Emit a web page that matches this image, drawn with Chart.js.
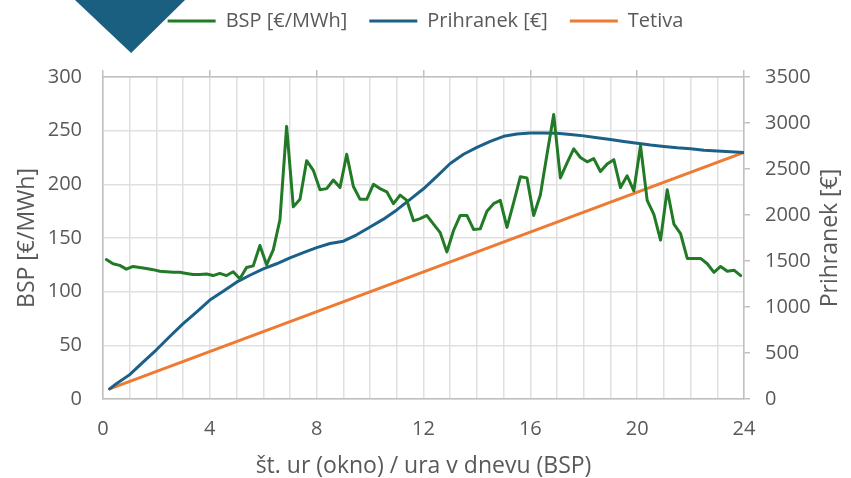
<!DOCTYPE html>
<html>
<head>
<meta charset="utf-8">
<script src="https://cdn.jsdelivr.net/npm/chart.js@4.4.1/dist/chart.umd.min.js"></script>
<style>
  html, body { margin: 0; padding: 0; background: #ffffff; }
  #wrap { position: relative; width: 851px; height: 478px; }
  #corner {
    position: absolute; left: 75px; top: 0; width: 110px; height: 53px;
    background: #1a5f80;
    clip-path: polygon(0 0, 100% 0, 51% 100%);
  }
  canvas { position: absolute; left: 0; top: 0; }
</style>
</head>
<body>
<div id="wrap">
  <div id="corner"></div>
  <canvas id="chart" width="851" height="478"></canvas>
</div>
<script>
// BSP price per quarter hour [€/MWh]
var bspValues = [
    130, 126, 124.5, 121, 123.5, 122.5, 121.5, 120.5,
    119, 118.5, 118, 118, 117, 116, 116, 116.5,
    115, 117, 115, 118.5, 112, 122.5, 124, 143,
    125, 139, 167, 254, 179, 186, 222, 213,
    195, 196, 204, 197, 228, 198, 186, 186,
    200, 196, 193, 182, 190, 185, 166, 168,
    171, 163, 155, 137, 157, 171, 171, 158,
    158.5, 175, 182, 185, 160, 183, 207, 206,
    171, 190, 228, 265, 206, 220, 233, 225,
    221, 224, 212, 219, 223, 197, 208, 194,
    236, 185, 172, 148, 195, 163, 154, 131,
    131, 131, 126, 118, 123.5, 119, 120, 115
];
// quarter-hour slots, plotted at the middle of each slot
var bspHours = bspValues.map(function (v, i) { return i * 0.25 + 0.125; });

// savings by window length [€]
var savingHours = [
    0.25, 0.5, 1, 1.5, 2, 2.5, 3, 3.5, 4, 4.5, 5, 5.5, 6, 6.5, 7, 7.5,
    8, 8.5, 9, 9.5, 10, 10.5, 11, 11.5, 12, 12.5, 13, 13.5, 14, 14.5, 15, 15.5,
    16, 16.5, 17, 17.5, 18, 18.5, 19, 19.5, 20, 20.5, 21, 21.5, 22, 22.5, 23, 23.5, 24
];
var savingValues = [
    110, 165, 265, 400, 535, 680, 820, 945, 1075, 1170, 1270, 1345, 1415, 1470, 1535, 1590,
    1645, 1690, 1715, 1785, 1870, 1955, 2055, 2170, 2285, 2420, 2560, 2660, 2735, 2800, 2855, 2880,
    2890, 2890, 2888, 2875, 2860, 2840, 2820, 2800, 2780, 2760, 2745, 2730, 2720, 2705, 2695, 2688, 2680
];

// chord between first and last window
var chordHours = [0.25, 24];
var chordValues = [110, 2680];

var xLabels = [0, 4, 8, 12, 16, 20, 24];

function toPoints(xs, ys) {
    return ys.map(function (y, i) { return { x: xs[i], y: y }; });
}

var textColor = "#595959";
var gridColor = "#e0e0e0";
var axisColor = "#c0c0c0";
var fontName = "'Open Sans', sans-serif";

Chart.defaults.font.family = fontName;
Chart.defaults.color = textColor;

// right axis title reads bottom to top, so it is drawn here
var rightTitle = {
    id: "rightTitle",
    afterDraw: function (chart) {
        var s = chart.scales.y1;
        var ctx = chart.ctx;
        ctx.save();
        ctx.translate(s.right - 21, (chart.chartArea.top + chart.chartArea.bottom) / 2);
        ctx.rotate(-Math.PI / 2);
        ctx.font = "23px " + fontName;
        ctx.fillStyle = textColor;
        ctx.textAlign = "center";
        ctx.textBaseline = "middle";
        ctx.fillText("Prihranek [€]", 0, 0);
        ctx.restore();
    }
};

var ctx = document.getElementById("chart").getContext("2d");
var chart = new Chart(ctx, {
    type: "line",
    data: {
        datasets: [{
            label: "BSP [€/MWh]",
            data: toPoints(bspHours, bspValues),
            borderColor: "#217a25",
            backgroundColor: "#217a25",
            borderWidth: 3,
            yAxisID: "y"
        }, {
            label: "Prihranek [€]",
            data: toPoints(savingHours, savingValues),
            borderColor: "#1b6088",
            backgroundColor: "#1b6088",
            borderWidth: 3,
            yAxisID: "y1"
        }, {
            label: "Tetiva",
            data: toPoints(chordHours, chordValues),
            borderColor: "#ee7a34",
            backgroundColor: "#ee7a34",
            borderWidth: 3,
            yAxisID: "y1"
        }]
    },
    options: {
        responsive: false,
        animation: false,
        layout: { padding: { top: -11, left: 0, right: 0, bottom: 0 } },
        elements: {
            point: { radius: 0 },
            line: { tension: 0, borderCapStyle: "round", borderJoinStyle: "round" }
        },
        plugins: {
            tooltip: { enabled: false },
            legend: {
                position: "top",
                labels: {
                    usePointStyle: true,
                    pointStyle: "line",
                    pointStyleWidth: 48,
                    padding: 22,
                    color: textColor,
                    font: { size: 20 }
                }
            }
        },
        scales: {
            x: {
                type: "linear",
                position: "bottom",
                min: 0,
                max: 24,
                afterFit: function (scale) { scale.height = 79; },
                afterBuildTicks: function (scale) {
                    var ticks = [];
                    for (var h = 0; h <= 24; h++) ticks.push({ value: h });
                    scale.ticks = ticks;
                },
                ticks: {
                    autoSkip: false,
                    maxRotation: 0,
                    padding: 18,
                    font: { size: 20 },
                    callback: function (value) {
                        return xLabels.indexOf(value) >= 0 ? String(value) : "";
                    }
                },
                grid: { color: gridColor, lineWidth: 1.5, drawTicks: false },
                border: { color: axisColor, width: 1.5 },
                title: {
                    display: true,
                    text: "št. ur (okno) / ura v dnevu (BSP)",
                    font: { size: 23 },
                    padding: { top: 0, bottom: -2 }
                }
            },
            xTop: {
                type: "linear",
                position: "top",
                min: 0,
                max: 24,
                afterFit: function (scale) { scale.height = 36; },
                afterBuildTicks: function (scale) {
                    scale.ticks = xLabels.map(function (v) { return { value: v }; });
                },
                ticks: { display: false },
                grid: { drawOnChartArea: false, color: axisColor, lineWidth: 1.5, tickLength: 7 },
                border: { color: axisColor, width: 1.5 }
            },
            y: {
                position: "left",
                min: 0,
                max: 300,
                afterFit: function (scale) { scale.width = 103; },
                ticks: { stepSize: 50, padding: 21, font: { size: 20 } },
                grid: { color: gridColor, lineWidth: 1.5, drawTicks: false },
                border: { color: axisColor, width: 1.5 },
                title: {
                    display: true,
                    text: "BSP [€/MWh]",
                    font: { size: 23 },
                    padding: { top: 14, bottom: 0 }
                }
            },
            y1: {
                position: "right",
                min: 0,
                max: 3500,
                afterFit: function (scale) { scale.width = 107; },
                ticks: {
                    stepSize: 500,
                    padding: 15,
                    font: { size: 20 },
                    callback: function (value) { return String(value); }
                },
                grid: { drawOnChartArea: false, color: axisColor, lineWidth: 1.5, tickLength: 6 },
                border: { color: axisColor, width: 1.5 }
            }
        }
    },
    plugins: [rightTitle]
});
</script>
</body>
</html>
